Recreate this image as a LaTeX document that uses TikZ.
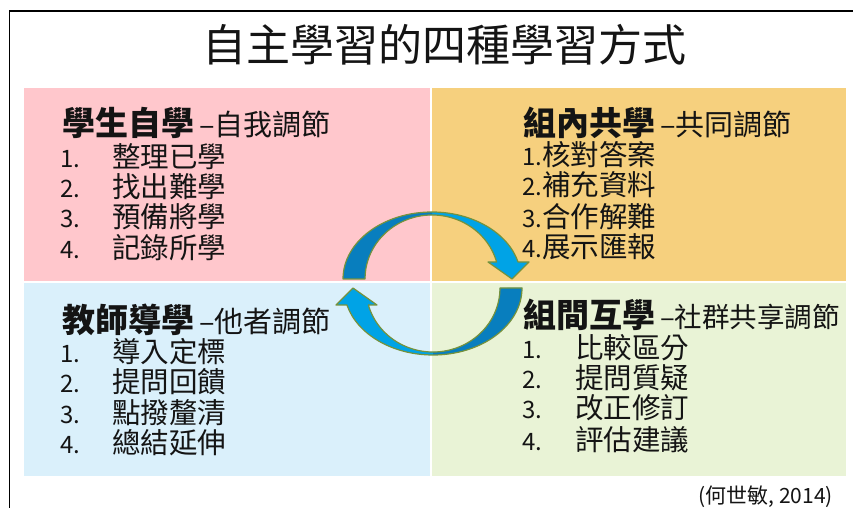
\documentclass[tikz,border=0pt]{standalone}
\usepackage{fontspec}
\setmainfont{Noto Sans CJK TC}
\definecolor{qpink}{RGB}{255,199,204}
\definecolor{qorange}{RGB}{246,208,126}
\definecolor{qblue}{RGB}{218,240,251}
\definecolor{qgreen}{RGB}{233,243,214}
\definecolor{adark}{RGB}{8,126,190}
\definecolor{alight}{RGB}{0,163,230}
\definecolor{aline}{RGB}{118,146,60}
\definecolor{txt}{RGB}{20,20,20}
\newcommand\numf{\fontsize{24}{28}\selectfont}
\newcommand\boldf{\fontsize{33}{36}\selectfont\bfseries}
\newcommand\gapdash{\hspace{5pt}–}
\begin{document}
\begin{tikzpicture}[x=1pt,y=1pt,
  ttl/.style={anchor=center,inner sep=0pt,text=txt,font=\fontsize{44}{50}\selectfont},
  head/.style={anchor=west,inner sep=0pt,text=txt,font=\fontsize{29}{32}\selectfont},
  headsm/.style={anchor=west,inner sep=0pt,text=txt,font=\fontsize{27.5}{30}\selectfont},
  item/.style={anchor=west,inner sep=0pt,text=txt,font=\fontsize{28.5}{30}\selectfont},
  quad/.style={inner sep=0pt,draw=none,anchor=south west,minimum width=406pt,minimum height=193pt},
  quadr/.style={inner sep=0pt,draw=none,anchor=south west,minimum width=414pt,minimum height=193pt},
  cite/.style={anchor=east,inner sep=0pt,text=txt,font=\fontsize{21}{24}\selectfont}]
\useasboundingbox (0,0) rectangle (853,508);
\fill[white] (0,0) rectangle (853,508);
\draw[line width=1.2pt] (9.5,0) -- (9.5,497) -- (853,497);

\node[ttl] (title) at (444,463) {自主學習的四種學習方式};

\node[quad,fill=qpink] (qp) at (24,227) {};
\node[quadr,fill=qorange] (qo) at (432,227) {};
\node[quad,fill=qblue] (qb) at (24,32) {};
\node[quadr,fill=qgreen] (qg) at (432,32) {};

% curved arrows
\foreach \r in {0,180}{
\begin{scope}[rotate around={\r:(432.5,224.5)}]
\fill[alight] (343,229) arc[start angle=180,end angle=14.7,x radius=89,y radius=67]
  -- (529,246) -- (512,229) -- (488,246) -- (496.6,246)
  arc[start angle=15.4,end angle=180,x radius=67,y radius=64] -- cycle;
\fill[adark] (343,229) arc[start angle=180,end angle=90,x radius=89,y radius=67]
  -- (432,293) arc[start angle=90,end angle=180,x radius=67,y radius=64] -- cycle;
\draw[aline,line width=1.2pt,line join=round] (343,229) arc[start angle=180,end angle=14.7,x radius=89,y radius=67]
  -- (529,246) -- (512,229) -- (488,246) -- (496.6,246)
  arc[start angle=15.4,end angle=180,x radius=67,y radius=64] -- cycle;
\end{scope}
}

% pink
\node[head] (hp) at (62,385) {{\boldf 學生自學}\gapdash 自我調節};
\node[item] (p1) at (60,351) {\makebox[52pt][l]{\numf 1.}整理已學};
\node[item] (p2) at (60,321) {\makebox[52pt][l]{\numf 2.}找出難學};
\node[item] (p3) at (60,291) {\makebox[52pt][l]{\numf 3.}預備將學};
\node[item] (p4) at (60,260) {\makebox[52pt][l]{\numf 4.}記錄所學};

% orange
\node[head] (ho) at (523,385) {{\boldf 組內共學}\gapdash 共同調節};
\node[item] (o1) at (522,353) {{\numf 1.}核對答案};
\node[item] (o2) at (522,323) {{\numf 2.}補充資料};
\node[item] (o3) at (522,291) {{\numf 3.}合作解難};
\node[item] (o4) at (522,261) {{\numf 4.}展示匯報};

% blue
\node[head] (hb) at (62,188) {{\boldf 教師導學}\gapdash 他者調節};
\node[item] (b1) at (60,156) {\makebox[52pt][l]{\numf 1.}導入定標};
\node[item] (b2) at (60,126) {\makebox[52pt][l]{\numf 2.}提問回饋};
\node[item] (b3) at (60,95) {\makebox[52pt][l]{\numf 3.}點撥釐清};
\node[item] (b4) at (60,65) {\makebox[52pt][l]{\numf 4.}總結延伸};

% green
\node[headsm] (hg) at (523,193) {{\boldf 組間互學}\gapdash 社群共享調節};
\node[item] (g1) at (522,160) {\makebox[53pt][l]{\numf 1.}比較區分};
\node[item] (g2) at (522,130) {\makebox[53pt][l]{\numf 2.}提問質疑};
\node[item] (g3) at (522,100) {\makebox[53pt][l]{\numf 3.}改正修訂};
\node[item] (g4) at (522,68) {\makebox[53pt][l]{\numf 4.}評估建議};

\node[cite] (cite) at (833,11) {(何世敏, 2014)};
\end{tikzpicture}
\end{document}
